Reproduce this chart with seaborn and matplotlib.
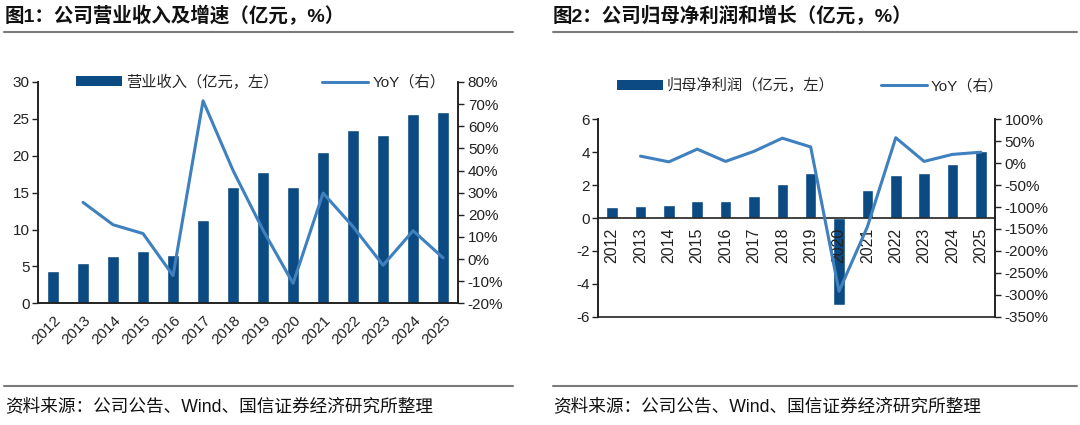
import numpy as np
import pandas as pd
import matplotlib
matplotlib.use("Agg")
import matplotlib.pyplot as plt
import seaborn as sns
from matplotlib.lines import Line2D
from matplotlib.patches import Patch
from matplotlib.ticker import FuncFormatter, MultipleLocator, FixedLocator

# style first, then fonts (set_style resets font.family)
sns.set_style("white")
plt.rcParams['font.family'] = ['Liberation Sans', 'Noto Sans CJK SC']
plt.rcParams['axes.unicode_minus'] = False

# data
years = [str(y) for y in range(2012, 2026)]
revenue = [4.4, 5.5, 6.4, 7.1, 6.6, 11.3, 15.8, 17.8, 15.8, 20.5, 23.5, 22.8, 25.7, 25.9]
revenue_yoy = [np.nan, 25.6, 15.5, 11.5, -7.5, 71.5, 40.0, 13.0, -11.0, 29.8, 14.6, -2.8, 12.8, 0.5]
profit = [0.65, 0.75, 0.77, 1.01, 1.05, 1.32, 2.05, 2.74, -5.27, 1.68, 2.62, 2.72, 3.27, 4.06]
profit_yoy = [np.nan, 16, 3, 32, 4, 27, 57, 37, -292, -145, 58, 4, 20, 25]

title1 = '图1：公司营业收入及增速（亿元，%）'
title2 = '图2：公司归母净利润和增长（亿元，%）'
source = '资料来源：公司公告、Wind、国信证券经济研究所整理'
bar_label1 = '营业收入（亿元，左）'
bar_label2 = '归母净利润（亿元，左）'
line_label = 'YoY（右）'

bar_color = '#0B4A82'
line_color = '#3F80BF'
fs = 11

df1 = pd.DataFrame({'year': years, 'pos': range(len(years)), 'value': revenue, 'yoy': revenue_yoy})
df2 = pd.DataFrame({'year': years, 'pos': range(len(years)), 'value': profit, 'yoy': profit_yoy})

fig = plt.figure(figsize=(10.8, 4.25), dpi=100)
ax1 = fig.add_axes([0.0352, 0.2864, 0.389, 0.5207])
ax2 = fig.add_axes([0.5537, 0.2548, 0.3676, 0.4645])

pct = FuncFormatter(lambda v, p: '{:.0f}%'.format(v))


def draw(ax, df, ylim, ystep, rlim, rstep, width):
    sns.barplot(data=df, x='year', y='value', color=bar_color, width=width,
                saturation=1, ax=ax, zorder=2)
    ax.set_axisbelow(False)
    ax.set_xlim(-0.5, len(df) - 0.5)
    ax.set_ylim(*ylim)
    ax.yaxis.set_major_locator(MultipleLocator(ystep))
    ax.set_xlabel('')
    ax.set_ylabel('')
    axr = ax.twinx()
    sns.lineplot(data=df.dropna(), x='pos', y='yoy', color=line_color, linewidth=2.2,
                 ax=axr, zorder=3)
    axr.set_ylim(*rlim)
    axr.yaxis.set_major_locator(MultipleLocator(rstep))
    axr.yaxis.set_major_formatter(pct)
    axr.set_ylabel('')
    axr.set_xlim(-0.5, len(df) - 0.5)
    for a in (ax, axr):
        a.spines['top'].set_visible(False)
        for s in ('left', 'right', 'bottom'):
            a.spines[s].set_color('#222222')
            a.spines[s].set_linewidth(1.2)
        a.grid(False)
    ax.tick_params(axis='y', direction='out', length=4, width=1, labelsize=fs, pad=2, colors='#222222')
    axr.tick_params(axis='y', direction='out', length=4, width=1, labelsize=fs, pad=3, colors='#222222')
    ax.xaxis.set_minor_locator(FixedLocator(np.arange(0.5, len(df) - 1, 1.0)))
    ax.tick_params(axis='x', which='minor', direction='in', length=4, width=1, color='#222222')
    ax.tick_params(axis='x', which='major', length=0, labelsize=fs, colors='#222222')
    handles = [Patch(facecolor=bar_color, edgecolor='none'),
               Line2D([0], [0], color=line_color, linewidth=2.2)]
    return axr, handles


axr1, h1 = draw(ax1, df1, (0, 30), 5, (-20, 80), 10, 0.42)
for lab in ax1.get_xticklabels():
    lab.set_rotation(45)
    lab.set_ha('right')
    lab.set_rotation_mode('anchor')
ax1.tick_params(axis='x', which='major', pad=7)
axr1.legend(h1, [bar_label1, line_label], loc='center', bbox_to_anchor=(0.53, 1.0),
            ncol=2, frameon=False, fontsize=fs, handlelength=3.0, handleheight=0.6,
            columnspacing=2.8, handletextpad=0.3)

axr2, h2 = draw(ax2, df2, (-6, 6), 2, (-350, 100), 50, 0.41)
ax2.spines['bottom'].set_position(('data', 0))
for lab in ax2.get_xticklabels():
    lab.set_rotation(90)
    lab.set_fontsize(11.5)
ax2.tick_params(axis='x', which='major', pad=7)
axr2.legend(h2, [bar_label2, line_label], loc='center', bbox_to_anchor=(0.535, 1.17),
            ncol=2, frameon=False, fontsize=fs, handlelength=3.0, handleheight=0.6,
            columnspacing=3.0, handletextpad=0.3)

# titles, rules and source notes
fig.text(5 / 1080, 1 - 16 / 425, title1, fontsize=14, fontweight='bold', va='center', ha='left', color='#111111')
fig.text(553 / 1080, 1 - 16 / 425, title2, fontsize=14, fontweight='bold', va='center', ha='left', color='#111111')
for x0, x1 in ((4, 513), (553, 1077)):
    fig.add_artist(Line2D([x0 / 1080, x1 / 1080], [1 - 32 / 425] * 2, color='#7a7a7a', linewidth=1.5))
    fig.add_artist(Line2D([x0 / 1080, x1 / 1080], [1 - 386 / 425] * 2, color='#7a7a7a', linewidth=1.5))
fig.text(5 / 1080, 1 - 407 / 425, source, fontsize=12.7, va='center', ha='left', color='#111111')
fig.text(553 / 1080, 1 - 407 / 425, source, fontsize=12.7, va='center', ha='left', color='#111111')

fig.savefig('out.png', dpi=100)
